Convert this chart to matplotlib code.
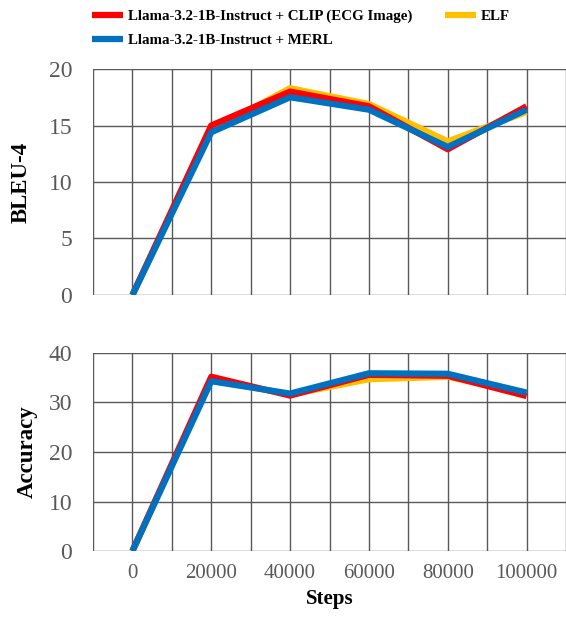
import matplotlib
matplotlib.use("Agg")
import matplotlib.pyplot as plt

plt.rcParams['font.family'] = ['Liberation Serif', 'DejaVu Serif']

steps = [0, 20000, 40000, 60000, 80000, 100000]
labels = ["Llama-3.2-1B-Instruct + CLIP (ECG Image)", "ELF", "Llama-3.2-1B-Instruct + MERL"]

bleu_clip = [0, 15.0, 18.0, 16.7, 12.9, 16.7]
bleu_elf = [0, 14.6, 18.3, 16.9, 13.6, 16.2]
bleu_merl = [0, 14.4, 17.5, 16.4, 13.1, 16.4]

acc_clip = [0, 35.2, 31.4, 35.6, 35.4, 31.3]
acc_elf = [0, 34.6, 31.6, 34.7, 35.2, 31.8]
acc_merl = [0, 34.3, 31.8, 35.9, 35.8, 32.0]

colors = {"clip": "#FF0000", "elf": "#FFC000", "merl": "#0070C0"}
grid_col = "#595959"
W, H = 566, 623

fig = plt.figure(figsize=(W / 100, H / 100), dpi=100)
ax1 = fig.add_axes([93 / W, 1 - 295 / H, (W - 93) / W, 226 / H])
ax2 = fig.add_axes([93 / W, 1 - 551 / H, (W - 93) / W, 198 / H])


def style(ax, ymax, ystep):
    ax.set_xlim(-10000, 110000)
    ax.set_ylim(0, ymax)
    ax.set_xticks(range(-10000, 110001, 10000), minor=True)
    ax.set_xticks(steps)
    ax.set_yticks(range(0, ymax + 1, ystep))
    ax.grid(True, which='both', color=grid_col, lw=1.0)
    ax.set_axisbelow(True)
    for s in ax.spines.values():
        s.set_visible(False)
    ax.tick_params(which='both', length=0)
    ax.tick_params(axis='y', labelsize=17, labelcolor=grid_col, pad=15)
    ax.tick_params(axis='x', labelsize=15, labelcolor=grid_col, pad=9)


lw = 4.5
lines = []
for ax, (c, e, m) in [(ax1, (bleu_clip, bleu_elf, bleu_merl)), (ax2, (acc_clip, acc_elf, acc_merl))]:
    l_e, = ax.plot(steps, e, color=colors["elf"], lw=lw, solid_capstyle='butt')
    l_c, = ax.plot(steps, c, color=colors["clip"], lw=lw, solid_capstyle='butt')
    l_m, = ax.plot(steps, m, color=colors["merl"], lw=lw, solid_capstyle='butt')
    lines = [l_c, l_m, l_e]

style(ax1, 20, 5)
style(ax2, 40, 10)
ax1.set_xticklabels([])

ax1.set_ylabel("BLEU-4", fontsize=16.5, fontweight='bold', labelpad=12)
ax2.set_ylabel("Accuracy", fontsize=16.5, fontweight='bold', labelpad=8)
ax2.set_xlabel("Steps", fontsize=15, fontweight='bold', labelpad=5)

fig.legend(lines, [labels[0], labels[2], labels[1]], ncol=2, loc='upper left',
           bbox_to_anchor=(84 / W, 1 - 2 / H), frameon=False, borderpad=0,
           handlelength=2.1, handletextpad=0.3, columnspacing=2.2,
           labelspacing=0.72, prop={'size': 10.8, 'weight': 'bold'})

fig.savefig("out.png", dpi=100)
